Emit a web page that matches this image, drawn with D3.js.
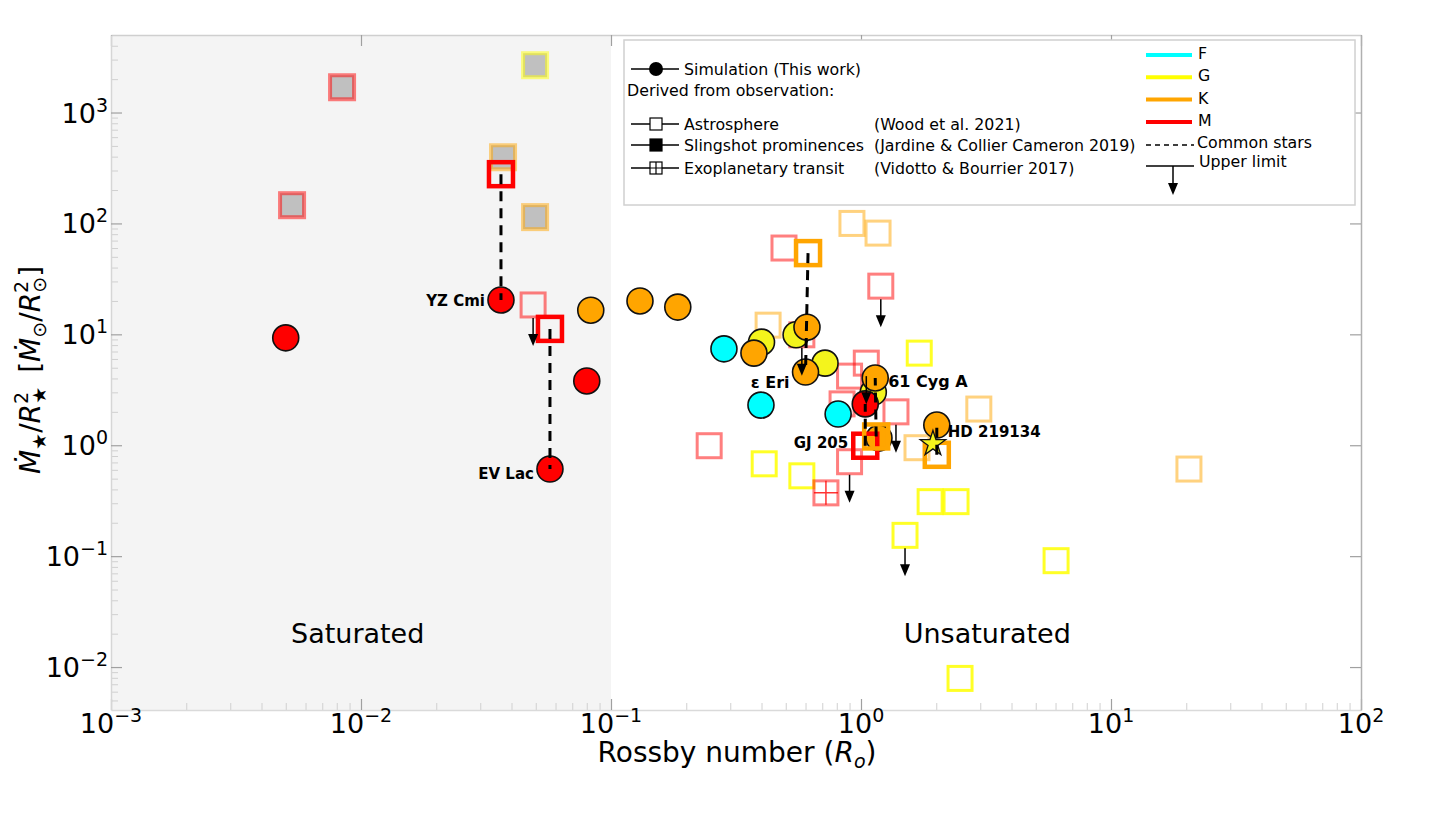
<!DOCTYPE html>
<html>
<head>
<meta charset="utf-8">
<script src="https://cdn.jsdelivr.net/npm/d3@7"></script>
<style>
body { margin: 0; background: #fff; }
svg text { font-family: "DejaVu Sans", sans-serif; fill: #000; }
</style>
</head>
<body>
<svg id="chart" width="1431" height="822"></svg>
<script>
// axis ticks
var xTicks = [1e-3, 1e-2, 1e-1, 1, 10, 100];
var xTickExp = ["\u22123", "\u22122", "\u22121", "0", "1", "2"];
var yTicks = [1e-2, 1e-1, 1, 10, 100, 1000];
var yTickExp = ["\u22122", "\u22121", "0", "1", "2", "3"];

// simulation (this work), circles
var simRo   = [0.283, 0.398, 0.81,   0.40, 0.55, 0.718, 1.12,   0.083, 0.1306, 0.185, 0.373, 0.608, 0.60, 1.14, 2.01, 1.18,   0.005, 0.0363, 0.080, 0.057, 1.04];
var simMdot = [7.4,   2.3,   1.91,   8.5,  9.9,  5.5,   3.0,    16.5,  20.0,   17.6,  6.77,  11.6,  4.57, 4.04, 1.52, 1.16,   9.3,   20.4,   3.8,   0.61,  2.36];
var simType = ["F","F","F", "G","G","G","G", "K","K","K","K","K","K","K","K","K", "M","M","M","M","M"];

// simulation shown as a star (HD 219134)
var starRo = [1.94];
var starMdot = [1.03];
var starType = ["G"];

// astrosphere, stars in common with simulation (opaque squares) + the sim point they pair with
var commonRo      = [0.0363, 0.057, 1.04, 0.614, 2.01, 1.15];
var commonMdot    = [278,    11.2,  0.99, 54,    0.82, 1.20];
var commonType    = ["M",    "M",   "M",  "K",   "K",  "K"];
var commonSimRo   = [0.0363, 0.057, 1.04, 0.60,  2.01, 1.14];
var commonSimMdot = [20.4,   0.61,  2.36, 4.57,  1.52, 4.04];

// astrosphere, other stars (Wood et al. 2021)
var astroRo    = [0.0488, 0.492, 0.58, 1.2,  1.05, 0.90, 0.84, 1.38, 0.90, 0.247,
                  0.92, 1.17, 0.425, 1.675, 2.96, 20.5,
                  1.71, 0.41, 0.58, 1.89, 2.4, 1.5, 6.03, 2.49];
var astroMdot  = [18.4,   60,    9.9,  27.2, 5.5,  4.2,  2.36, 2.0,  0.71, 0.99,
                  100,  81.8, 12.1,  0.95,  2.12, 0.61,
                  6.77, 0.68, 0.53, 0.31, 0.31, 0.154, 0.091, 0.0079];
var astroType  = ["M","M","M","M","M","M","M","M","M","M",
                  "K","K","K","K","K","K",
                  "G","G","G","G","G","G","G","G"];
var astroUpper = [1,0,1,1,1,0,0,1,1,0,
                  0,0,0,0,0,0,
                  0,0,0,0,0,1,0,0];

// slingshot prominences (Jardine & Collier Cameron 2019)
var slingRo   = [0.0084, 0.0053, 0.0497, 0.037, 0.0497];
var slingMdot = [1690,   146,    2670,   395,   114];
var slingType = ["M",    "M",    "G",    "K",   "K"];

// exoplanetary transit (Vidotto & Bourrier 2017)
var transitRo = [0.724];
var transitMdot = [0.372];
var transitType = ["M"];

// star names
var labelNames = ["YZ Cmi", "EV Lac", "\u03b5 Eri", "61 Cyg A", "GJ 205", "HD 219134"];
var labelRo    = [0.0363, 0.057, 0.60, 1.14, 1.04, 2.01];
var labelMdot  = [20.4,   0.61,  4.57, 4.04, 0.99, 1.52];

var regionNames = ["Saturated", "Unsaturated"];
var regionRo = [0.0097, 3.2];
var regionMdot = [0.0165, 0.0165];
var saturationRo = 0.1;

var colors = { F: "#00ffff", G: "#ffff00", K: "#ffa500", M: "#ff0000" };
var circleColors = { F: "#00ffff", G: "#f4f41c", K: "#ffa500", M: "#ff0000" };

var svg = d3.select("#chart");
var pL = 111, pR = 1361, pT = 35, pB = 710;

var x = d3.scaleLog().domain([1e-3, 1e2]).range([pL, pR]);
var y = d3.scaleLog().domain([4.1e-3, 5e3]).range([pB, pT]);

// saturated background
svg.append("rect")
	.attr("x", x(1e-3)).attr("y", pT)
	.attr("width", x(saturationRo) - x(1e-3))
	.attr("height", pB - pT)
	.attr("fill", "#f4f4f4");

// minor tick values
var minorX = [], minorY = [];
for (var e = -3; e < 2; e++) for (var k = 2; k < 10; k++) minorX.push(k * Math.pow(10, e));
for (var e = -3; e < 4; e++) for (var k = 2; k < 10; k++) {
	var v = k * Math.pow(10, e);
	if (v > 4.1e-3 && v < 5e3) minorY.push(v);
}

function styleAxis(g, lineColor, tickColor) {
	g.select(".domain").attr("stroke", lineColor).attr("stroke-width", 1.5);
	g.selectAll(".tick line").attr("stroke", tickColor).attr("stroke-width", 1.2);
}

var gMinB = svg.append("g").attr("transform", "translate(0," + pB + ")")
	.call(d3.axisBottom(x).tickValues(minorX).tickSize(-7).tickSizeOuter(0).tickFormat(""));
gMinB.select(".domain").remove();
gMinB.selectAll(".tick line").attr("stroke", "#d0d0d0");

var gMinL = svg.append("g").attr("transform", "translate(" + pL + ",0)")
	.call(d3.axisLeft(y).tickValues(minorY).tickSize(-7).tickSizeOuter(0).tickFormat(""));
gMinL.select(".domain").remove();
gMinL.selectAll(".tick line").attr("stroke", "#d0d0d0");

styleAxis(svg.append("g").attr("transform", "translate(0," + pB + ")")
	.call(d3.axisBottom(x).tickValues(xTicks).tickSize(-11).tickSizeOuter(0).tickFormat("")), "#dadada", "#a0a0a0");
styleAxis(svg.append("g").attr("transform", "translate(0," + pT + ")")
	.call(d3.axisTop(x).tickValues(xTicks).tickSize(-11).tickSizeOuter(0).tickFormat("")), "#cfcfcf", "#a0a0a0");
styleAxis(svg.append("g").attr("transform", "translate(" + pL + ",0)")
	.call(d3.axisLeft(y).tickValues(yTicks).tickSize(-11).tickSizeOuter(0).tickFormat("")), "#d6d6d6", "#a0a0a0");
styleAxis(svg.append("g").attr("transform", "translate(" + pR + ",0)")
	.call(d3.axisRight(y).tickValues(yTicks).tickSize(-11).tickSizeOuter(0).tickFormat("")), "#b0b0b0", "#a0a0a0");

// tick labels
xTicks.forEach(function(v, i) {
	var t = svg.append("text").attr("x", x(v)).attr("y", pB + 23).attr("text-anchor", "middle").attr("font-size", 27);
	t.append("tspan").text("10");
	t.append("tspan").attr("dy", -11).attr("font-size", 19).text(xTickExp[i]);
});
yTicks.forEach(function(v, i) {
	var t = svg.append("text").attr("x", pL - 3).attr("y", y(v) + 10).attr("text-anchor", "end").attr("font-size", 27);
	t.append("tspan").text("10");
	t.append("tspan").attr("dy", -11).attr("font-size", 19).text(yTickExp[i]);
});

// axis titles
var xl = svg.append("text").attr("x", 737).attr("y", 762).attr("text-anchor", "middle").attr("font-size", 28);
xl.append("tspan").text("Rossby number (");
xl.append("tspan").attr("font-style", "italic").text("R");
xl.append("tspan").attr("font-style", "italic").attr("font-size", 19).attr("dy", 6).text("o");
xl.append("tspan").attr("dy", -6).text(")");

var yl = svg.append("text").attr("transform", "translate(40,370) rotate(-90)").attr("text-anchor", "middle").attr("font-size", 28);
yl.append("tspan").attr("font-style", "italic").text("\u1e40");
yl.append("tspan").attr("font-size", 19).attr("dy", 6).text("\u2605");
yl.append("tspan").attr("dy", -6).text("/");
yl.append("tspan").attr("font-style", "italic").text("R");
yl.append("tspan").attr("font-size", 19).attr("dy", -12).text("2");
yl.append("tspan").attr("font-size", 19).attr("dy", 18).attr("dx", -12).text("\u2605");
yl.append("tspan").attr("dy", -6).text("\u2002[");
yl.append("tspan").attr("font-style", "italic").text("\u1e40");
yl.append("tspan").attr("font-size", 19).attr("dy", 6).text("\u2299");
yl.append("tspan").attr("dy", -6).text("/");
yl.append("tspan").attr("font-style", "italic").text("R");
yl.append("tspan").attr("font-size", 19).attr("dy", -12).text("2");
yl.append("tspan").attr("font-size", 19).attr("dy", 18).attr("dx", -12).text("\u2299");
yl.append("tspan").attr("dy", -6).text("]");

// region labels
regionNames.forEach(function(n, i) {
	svg.append("text").attr("x", x(regionRo[i])).attr("y", y(regionMdot[i]))
		.attr("text-anchor", "middle").attr("font-size", 27).text(n);
});

var side = 24;
var marks = svg.append("g");

// slingshot prominences: grey filled squares
marks.selectAll("rect.sling").data(slingRo).enter().append("rect")
	.attr("class", "sling")
	.attr("x", function(d) { return x(d) - side / 2; })
	.attr("y", function(d, i) { return y(slingMdot[i]) - side / 2; })
	.attr("width", side).attr("height", side)
	.attr("fill", "#c0c0c0")
	.attr("stroke", function(d, i) { return colors[slingType[i]]; })
	.attr("stroke-opacity", 0.5).attr("stroke-width", 4);

// astrosphere, light squares
marks.selectAll("rect.astro").data(astroRo).enter().append("rect")
	.attr("class", "astro")
	.attr("x", function(d) { return x(d) - side / 2; })
	.attr("y", function(d, i) { return y(astroMdot[i]) - side / 2; })
	.attr("width", side).attr("height", side)
	.attr("fill", "none")
	.attr("stroke", function(d, i) { return colors[astroType[i]]; })
	.attr("stroke-opacity", function(d, i) { return astroType[i] == "G" ? 0.85 : 0.5; })
	.attr("stroke-width", 3);

// exoplanetary transit
transitRo.forEach(function(d, i) {
	var cx = x(d), cy = y(transitMdot[i]), c = colors[transitType[i]];
	marks.append("rect").attr("x", cx - side / 2).attr("y", cy - side / 2)
		.attr("width", side).attr("height", side).attr("fill", "none")
		.attr("stroke", c).attr("stroke-opacity", 0.5).attr("stroke-width", 3);
	marks.append("path").attr("d", "M" + (cx - side / 2) + "," + cy + "H" + (cx + side / 2) + "M" + cx + "," + (cy - side / 2) + "V" + (cy + side / 2))
		.attr("stroke", c).attr("stroke-width", 1.5).attr("stroke-opacity", 0.8);
});

// simulation circles
marks.selectAll("circle.sim").data(simRo).enter().append("circle")
	.attr("class", "sim")
	.attr("cx", function(d) { return x(d); })
	.attr("cy", function(d, i) { return y(simMdot[i]); })
	.attr("r", 13)
	.attr("fill", function(d, i) { return circleColors[simType[i]]; })
	.attr("stroke", "#111").attr("stroke-width", 1.6);

// astrosphere, common stars (opaque)
marks.selectAll("rect.common").data(commonRo).enter().append("rect")
	.attr("class", "common")
	.attr("x", function(d) { return x(d) - side / 2; })
	.attr("y", function(d, i) { return y(commonMdot[i]) - side / 2; })
	.attr("width", side).attr("height", side)
	.attr("fill", "none")
	.attr("stroke", function(d, i) { return colors[commonType[i]]; })
	.attr("stroke-width", 4.5);

// star marker
marks.selectAll("path.star").data(starRo).enter().append("path")
	.attr("class", "star")
	.attr("transform", function(d, i) { return "translate(" + x(d) + "," + y(starMdot[i]) + ")"; })
	.attr("d", d3.symbol(d3.symbolStar, 200)())
	.attr("fill", function(d, i) { return circleColors[starType[i]]; })
	.attr("stroke", "#111").attr("stroke-width", 1.3);

// common star links
marks.selectAll("line.link").data(commonRo).enter().append("line")
	.attr("class", "link")
	.attr("x1", function(d) { return x(d); })
	.attr("y1", function(d, i) { return y(commonMdot[i]); })
	.attr("x2", function(d, i) { return x(commonSimRo[i]); })
	.attr("y2", function(d, i) { return y(commonSimMdot[i]); })
	.attr("stroke", "#000").attr("stroke-width", 3).attr("stroke-dasharray", "10,7");

// upper limit arrows
function arrow(g, ax, ay, len) {
	g.append("line").attr("x1", ax).attr("y1", ay).attr("x2", ax).attr("y2", ay + len - 10)
		.attr("stroke", "#000").attr("stroke-width", 1.5);
	g.append("path").attr("d", "M" + (ax - 5) + "," + (ay + len - 12) + "L" + (ax + 5) + "," + (ay + len - 12) + "L" + ax + "," + (ay + len) + "Z")
		.attr("fill", "#000");
}
astroRo.forEach(function(d, i) {
	if (astroUpper[i]) arrow(marks, x(d), y(astroMdot[i]) + 13, 28);
});

// star names
var lblDx = [-16, -16, -16, 13, -17, 11];
var lblDy = [6, 10, 16, 9, 2, 12];
var lblAnchor = ["end", "end", "end", "start", "end", "start"];
var lblSize = [15, 15, 16, 16, 15, 15];
labelNames.forEach(function(n, i) {
	svg.append("text")
		.attr("x", x(labelRo[i]) + lblDx[i]).attr("y", y(labelMdot[i]) + lblDy[i])
		.attr("text-anchor", lblAnchor[i]).attr("font-size", lblSize[i]).attr("font-weight", "bold")
		.text(n);
});

// legend
var lg = svg.append("g");
var lgFont = 15.8;
lg.append("rect").attr("x", 624).attr("y", 40).attr("width", 731).attr("height", 165)
	.attr("fill", "#fff").attr("stroke", "#d0d0d0").attr("stroke-width", 1.5);

var lgRows = [
	{ y: 69, text: "Simulation (This work)", marker: "circle" },
	{ y: 124, text: "Astrosphere", ref: "(Wood et al. 2021)", marker: "open" },
	{ y: 145, text: "Slingshot prominences", ref: "(Jardine & Collier Cameron 2019)", marker: "filled" },
	{ y: 168, text: "Exoplanetary transit", ref: "(Vidotto & Bourrier 2017)", marker: "cross" }
];
lgRows.forEach(function(r) {
	lg.append("line").attr("x1", 631).attr("x2", 679).attr("y1", r.y).attr("y2", r.y).attr("stroke", "#000").attr("stroke-width", 1.5);
	if (r.marker == "circle") {
		lg.append("circle").attr("cx", 656).attr("cy", r.y).attr("r", 7).attr("fill", "#000");
	} else {
		lg.append("rect").attr("x", 650).attr("y", r.y - 6).attr("width", 12).attr("height", 12)
			.attr("fill", r.marker == "filled" ? "#000" : "#fff").attr("stroke", "#000").attr("stroke-width", 1.2);
		if (r.marker == "cross") {
			lg.append("path").attr("d", "M650," + r.y + "H662M656," + (r.y - 6) + "V" + (r.y + 6)).attr("stroke", "#000").attr("stroke-width", 1.2);
		}
	}
	lg.append("text").attr("x", 684).attr("y", r.y + 6).attr("font-size", lgFont).text(r.text);
	if (r.ref) lg.append("text").attr("x", 874).attr("y", r.y + 6).attr("font-size", lgFont).text(r.ref);
});
lg.append("text").attr("x", 627).attr("y", 96).attr("font-size", lgFont).text("Derived from observation:");

var lgTypes = ["F", "G", "K", "M"];
lgTypes.forEach(function(t, i) {
	var ly = 55 + i * 22.3;
	lg.append("line").attr("x1", 1146).attr("x2", 1192).attr("y1", ly).attr("y2", ly)
		.attr("stroke", colors[t]).attr("stroke-width", 4);
	lg.append("text").attr("x", 1198).attr("y", ly + 4).attr("font-size", lgFont).text(t);
});
lg.append("line").attr("x1", 1146).attr("x2", 1194).attr("y1", 145).attr("y2", 145)
	.attr("stroke", "#000").attr("stroke-width", 1.5).attr("stroke-dasharray", "5,4");
lg.append("text").attr("x", 1197).attr("y", 148).attr("font-size", lgFont).text("Common stars");
lg.append("line").attr("x1", 1146).attr("x2", 1194).attr("y1", 166).attr("y2", 166)
	.attr("stroke", "#000").attr("stroke-width", 1.5);
arrow(lg, 1173, 166, 29);
lg.append("text").attr("x", 1199).attr("y", 167).attr("font-size", lgFont).text("Upper limit");
</script>
</body>
</html>
